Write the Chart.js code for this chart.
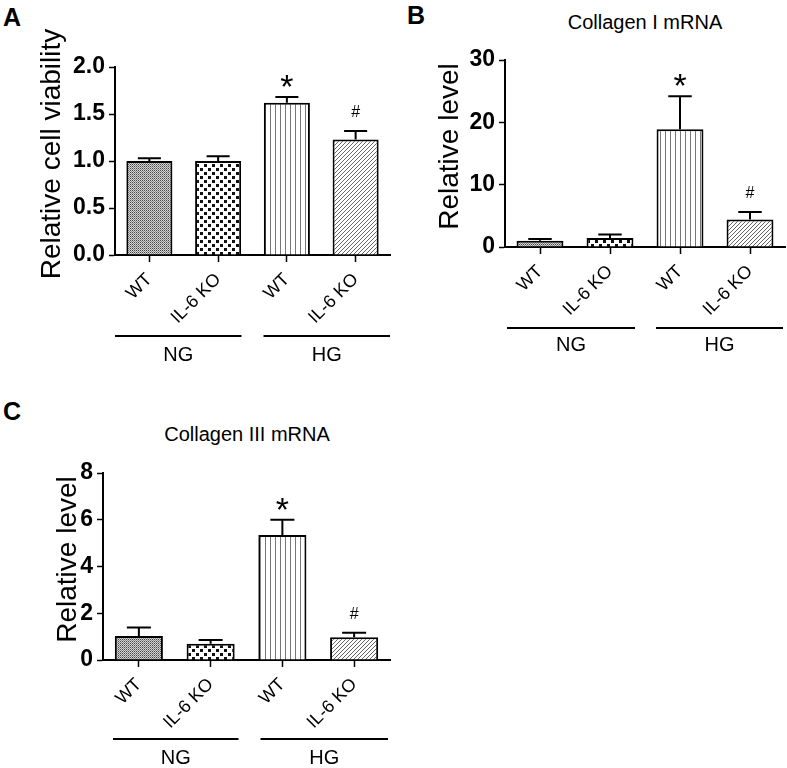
<!DOCTYPE html>
<html>
<head>
<meta charset="utf-8">
<script src="https://cdn.jsdelivr.net/npm/chart.js@4"></script>
<style>
  body { margin: 0; background: #fff; width: 787px; height: 768px; position: relative; overflow: hidden;
         font-family: "Liberation Sans", Arial, sans-serif; }
  canvas { position: absolute; }
  .lbl { position: absolute; color: #000; white-space: nowrap; line-height: 1; }
  .panel { font-weight: bold; font-size: 25px; }
  .sub { font-size: 20px; transform: translateX(-50%); }
</style>
</head>
<body>
<div class="lbl panel" style="left:3px; top:5px;">A</div>
<div class="lbl panel" style="left:407px; top:3px;">B</div>
<div class="lbl panel" style="left:3px; top:399px;">C</div>
<div class="lbl sub" style="left:645px; top:12px;">Collagen I mRNA</div>
<div class="lbl sub" style="left:247px; top:424px;">Collagen III mRNA</div>

<canvas id="chartA" width="395" height="370" style="left:0; top:0;"></canvas>
<canvas id="chartB" width="392" height="360" style="left:395px; top:0;"></canvas>
<canvas id="chartC" width="395" height="383" style="left:0; top:385px;"></canvas>

<script>
// categories and groups
const categories = ['WT', 'IL-6 KO', 'WT', 'IL-6 KO'];
const groups = ['NG', 'HG'];
const markers = ['', '', '*', '#'];

// A: relative cell viability
const viabilityMean = [1.0, 1.0, 1.62, 1.23];
const viabilityErr = [0.03, 0.05, 0.06, 0.09];
// B: collagen I mRNA
const col1Mean = [1.0, 1.45, 18.9, 4.4];
const col1Err = [0.3, 0.55, 5.3, 1.2];
// C: collagen III mRNA
const col3Mean = [1.03, 0.69, 5.35, 0.97];
const col3Err = [0.36, 0.17, 0.65, 0.2];

const FONT = '"Liberation Sans", Arial, sans-serif';
Chart.defaults.font.family = FONT;
Chart.defaults.color = '#000';

// fill patterns for the four bars
function makePattern(kind) {
  const c = document.createElement('canvas');
  const g = c.getContext('2d');
  if (kind === 'fine') {
    c.width = c.height = 2;
    g.fillStyle = '#d4d4d4'; g.fillRect(0, 0, 2, 2);
    g.fillStyle = '#444'; g.fillRect(0, 0, 1, 1);
    g.fillStyle = '#8a8a8a'; g.fillRect(1, 1, 1, 1);
  } else if (kind === 'checker') {
    c.width = c.height = 8;
    g.fillStyle = '#fff'; g.fillRect(0, 0, 8, 8);
    g.fillStyle = '#111'; g.fillRect(0, 0, 3, 3); g.fillRect(4, 4, 3, 3);
  } else if (kind === 'vert') {
    c.width = 5; c.height = 1;
    g.fillStyle = '#fff'; g.fillRect(0, 0, 5, 1);
    g.fillStyle = '#777'; g.fillRect(0, 0, 1, 1);
  } else {
    c.width = c.height = 4;
    g.fillStyle = '#fff'; g.fillRect(0, 0, 4, 4);
    g.fillStyle = '#666';
    for (let i = 0; i < 4; i++) g.fillRect(i, 3 - i, 1, 1);
  }
  return g.createPattern(c, 'repeat');
}
const fills = [makePattern('fine'), makePattern('checker'), makePattern('vert'), makePattern('diag')];

// error bars (upper only) plus significance marks
const errorBars = {
  id: 'errorBars',
  afterDatasetsDraw(chart, args, o) {
    const ctx = chart.ctx, y = chart.scales.y;
    const meta = chart.getDatasetMeta(0);
    ctx.save();
    ctx.strokeStyle = '#000';
    ctx.lineWidth = 2;
    meta.data.forEach((bar, i) => {
      const top = y.getPixelForValue(o.means[i] + o.errors[i]);
      const cap = bar.width * 0.5;
      ctx.beginPath();
      ctx.moveTo(bar.x, bar.y); ctx.lineTo(bar.x, top);
      ctx.moveTo(bar.x - cap / 2, top); ctx.lineTo(bar.x + cap / 2, top);
      ctx.stroke();
      ctx.fillStyle = '#000';
      ctx.textAlign = 'center';
      ctx.textBaseline = 'alphabetic';
      if (markers[i] === '*') {
        ctx.font = '34px ' + FONT;
        ctx.fillText('*', bar.x, top + 1);
      } else if (markers[i] === '#') {
        ctx.font = '16px ' + FONT;
        ctx.fillText('#', bar.x, top - 14);
      }
    });
    ctx.restore();
  }
};

// NG / HG group lines under the x labels, and the rotated y title
const groupLines = {
  id: 'groupLines',
  afterDraw(chart, args, o) {
    const ctx = chart.ctx, x = chart.scales.x, area = chart.chartArea;
    const mid = (x.getPixelForValue(1) + x.getPixelForValue(2)) / 2;
    const spans = [[area.left + o.inset, mid - o.gapL], [mid + o.gapR, area.right - o.endInset]];
    ctx.save();
    ctx.strokeStyle = '#000';
    ctx.lineWidth = 2;
    ctx.fillStyle = '#000';
    ctx.font = '20px ' + FONT;
    ctx.textAlign = 'center';
    ctx.textBaseline = 'middle';
    spans.forEach((s, i) => {
      ctx.beginPath();
      ctx.moveTo(s[0], o.lineY); ctx.lineTo(s[1], o.lineY);
      ctx.stroke();
      ctx.fillText(groups[i], (s[0] + s[1]) / 2, o.labelY);
    });
    // y axis title
    ctx.translate(o.titleX, (area.top + area.bottom) / 2 - 7);
    ctx.rotate(-Math.PI / 2);
    ctx.font = '28px ' + FONT;
    ctx.fillText(o.title, 0, 0);
    ctx.restore();
  }
};

function makePanel(id, means, errors, p) {
  return new Chart(document.getElementById(id), {
    type: 'bar',
    data: {
      labels: categories,
      datasets: [{
        data: means,
        backgroundColor: fills,
        borderColor: '#000',
        borderWidth: 2,
        barPercentage: 0.67,
        categoryPercentage: 1
      }]
    },
    options: {
      responsive: false,
      animation: false,
      layout: { padding: { top: p.top, right: p.right, left: 0, bottom: 0 } },
      plugins: {
        legend: { display: false },
        tooltip: { enabled: false },
        errorBars: { means: means, errors: errors },
        groupLines: p.groups
      },
      scales: {
        x: {
          offset: true,
          grid: { display: true, drawOnChartArea: false, offset: false, tickLength: 7, tickColor: '#000', tickWidth: 1.5 },
          border: { color: '#000', width: 2 },
          ticks: { color: '#000', font: { size: 18 }, minRotation: 45, maxRotation: 45, autoSkip: false, padding: 7 },
          afterFit(s) { s.height = p.xHeight; }
        },
        y: {
          min: 0,
          max: p.max,
          grid: { drawOnChartArea: false, tickLength: 6, tickColor: '#000', tickWidth: 1.5 },
          border: { color: '#000', width: 2 },
          ticks: {
            stepSize: p.step,
            color: '#000',
            padding: 4,
            font: { size: 23, weight: 'bold' },
            callback: v => v.toFixed(p.decimals)
          },
          afterFit(s) { s.width = p.yWidth; }
        }
      }
    },
    plugins: [errorBars, groupLines]
  });
}

makePanel('chartA', viabilityMean, viabilityErr, {
  top: 67, right: 5, xHeight: 115, yWidth: 115, max: 2, step: 0.5, decimals: 1,
  groups: { lineY: 336, labelY: 355, inset: 0, gapL: 11, gapR: 11, endInset: 0, title: 'Relative cell viability', titleX: 52 }
});
makePanel('chartB', col1Mean, col1Err, {
  top: 60, right: 2, xHeight: 113, yWidth: 110, max: 30, step: 10, decimals: 0,
  groups: { lineY: 328, labelY: 345, inset: 2, gapL: 10, gapR: 11, endInset: 2, title: 'Relative level', titleX: 55 }
});
makePanel('chartC', col3Mean, col3Err, {
  top: 88, right: 5, xHeight: 108, yWidth: 103, max: 8, step: 2, decimals: 0,
  groups: { lineY: 354, labelY: 373, inset: 10, gapL: 8, gapR: 14, endInset: 2, title: 'Relative level', titleX: 68 }
});
</script>
</body>
</html>
